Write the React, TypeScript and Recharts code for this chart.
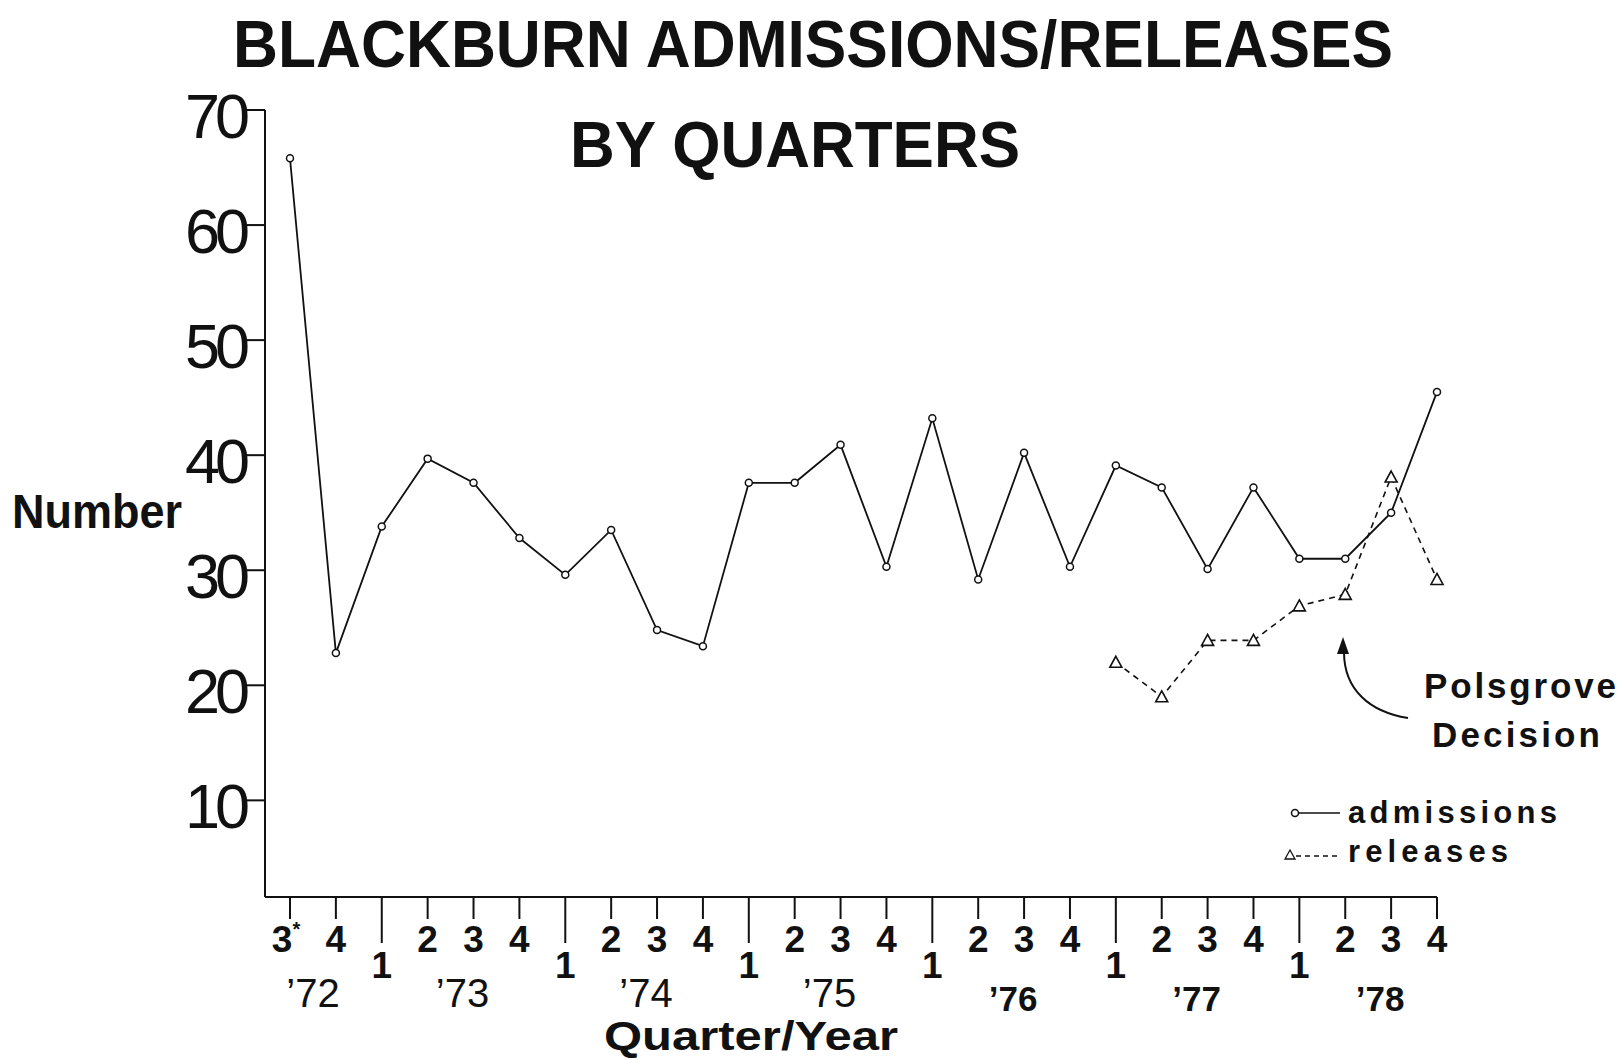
import { LineChart, Line, XAxis, YAxis } from "recharts";

// quarter labels, one per plotted point (3rd quarter '72 .. 4th quarter '78)
const quarters = ["3*", "4", "1", "2", "3", "4", "1", "2", "3", "4", "1", "2", "3", "4", "1", "2", "3", "4", "1", "2", "3", "4", "1", "2", "3", "4"];
const years = ["\u201972", "\u201973", "\u201974", "\u201975", "\u201976", "\u201977", "\u201978"];

const admissions = [65.8, 22.8, 33.8, 39.7, 37.6, 32.8, 29.6, 33.5, 24.8, 23.4, 37.6, 37.6, 40.9, 30.3, 43.2, 29.2, 40.2, 30.3, 39.1, 37.2, 30.1, 37.2, 31.0, 31.0, 35.0, 45.5];
const releases: (number | null)[] = [
  null, null, null, null, null, null, null, null, null, null, null, null, null, null, null, null, null, null,
  22.0, 19.0, 23.9, 23.9, 26.9, 27.9, 38.1, 29.2,
];
const yTicks = [10, 20, 30, 40, 50, 60, 70];

// year index for each point: a new year starts at every quarter "1"
const yearIndex: number[] = [];
quarters.forEach((q, i) => {
  const prev = i === 0 ? 0 : yearIndex[i - 1];
  yearIndex.push(q === "1" ? prev + 1 : prev);
});

const data = quarters.map((q, i) => ({
  key: String(i),
  q,
  admissions: admissions[i],
  releases: releases[i],
}));

const W = 1624;
const H = 1060;
const INK = "#111";
const SANS = "'Liberation Sans', Arial, sans-serif";

function QuarterTick(props: any) {
  const { x, y, payload } = props;
  const i = payload.index ?? props.index;
  const q = quarters[i];
  const isFirst = q === "1";
  const len = isFirst ? 46 : 22;
  const star = q.endsWith("*");
  const qText = star ? q.slice(0, -1) : q;
  const showYear = q.startsWith("3");
  const yi = yearIndex[i];
  const boldYear = yi >= 4;
  return (
    <g>
      <line x1={x} y1={y} x2={x} y2={y + len} stroke={INK} strokeWidth={2} />
      <text
        x={star ? x - 4 : x}
        y={y + (isFirst ? 81 : 55)}
        textAnchor="middle"
        fontFamily={SANS}
        fontWeight="bold"
        fontSize={37}
        fill={INK}
      >
        {qText}
        {star && (
          <tspan fontSize={20} dy={-16}>
            *
          </tspan>
        )}
      </text>
      {showYear && (
        <text
          x={x + (i === 0 ? 23 : -11)}
          y={y + (boldYear ? 114 : 110)}
          textAnchor="middle"
          fontFamily={SANS}
          fontWeight={boldYear ? "bold" : "normal"}
          fontSize={boldYear ? 35 : 40}
          fill={INK}
        >
          {years[yi]}
        </text>
      )}
    </g>
  );
}

function NumberTick(props: any) {
  const { x, y, payload } = props;
  return (
    <text
      x={x}
      y={y + 28}
      textAnchor="end"
      fontFamily={SANS}
      fontSize={63}
      letterSpacing={-5}
      fill={INK}
    >
      {payload.value}
    </text>
  );
}

function TriangleDot(props: any) {
  const { cx, cy, index } = props;
  if (cx == null || cy == null || props.value == null) return <g key={`t-${index}`} />;
  return (
    <path
      key={`t-${index}`}
      d={`M${cx},${cy - 6} L${cx + 6},${cy + 5} L${cx - 6},${cy + 5} Z`}
      fill="#fff"
      stroke={INK}
      strokeWidth={1.6}
    />
  );
}

function Annotations() {
  return (
    <svg width={W} height={H} style={{ position: "absolute", left: 0, top: 0, pointerEvents: "none" }}>
      <text
        x={813}
        y={67}
        textAnchor="middle"
        fontFamily="'Liberation Sans Narrow', 'Liberation Sans', sans-serif"
        fontWeight="bold"
        fontSize={66}
        textLength={1160}
        lengthAdjust="spacingAndGlyphs"
        fill={INK}
      >
        BLACKBURN  ADMISSIONS/RELEASES
      </text>
      <text
        x={795}
        y={167}
        textAnchor="middle"
        fontFamily="'Liberation Sans Narrow', 'Liberation Sans', sans-serif"
        fontWeight="bold"
        fontSize={64}
        textLength={450}
        lengthAdjust="spacingAndGlyphs"
        fill={INK}
      >
        BY  QUARTERS
      </text>
      <text x={12} y={528} fontFamily={SANS} fontWeight="bold" fontSize={48} textLength={170} lengthAdjust="spacingAndGlyphs" fill={INK}>
        Number
      </text>
      <text x={604} y={1050} fontFamily={SANS} fontWeight="bold" fontSize={41} textLength={294} lengthAdjust="spacingAndGlyphs" fill={INK}>
        Quarter/Year
      </text>

      {/* Polsgrove annotation */}
      <text x={1424} y={698} fontFamily={SANS} fontWeight="bold" fontSize={35} textLength={192} lengthAdjust="spacing" fill={INK}>
        Polsgrove
      </text>
      <text x={1432} y={747} fontFamily={SANS} fontWeight="bold" fontSize={35} textLength={168} lengthAdjust="spacing" fill={INK}>
        Decision
      </text>
      <path d="M1408,718 C1370,712 1344,690 1344,652" fill="none" stroke={INK} strokeWidth={2} />
      <path d="M1343,637 L1337,654 L1349,654 Z" fill={INK} />

      {/* legend */}
      <line x1={1298} y1={813} x2={1340} y2={813} stroke={INK} strokeWidth={1.6} />
      <circle cx={1295} cy={813} r={3.5} fill="#fff" stroke={INK} strokeWidth={1.5} />
      <text x={1348} y={823} fontFamily={SANS} fontWeight="bold" fontSize={31} textLength={209} lengthAdjust="spacing" fill={INK}>
        admissions
      </text>
      <line x1={1296} y1={856} x2={1340} y2={856} stroke={INK} strokeWidth={1.6} strokeDasharray="5 4" />
      <path d="M1290,850 L1295,859 L1285,859 Z" fill="#fff" stroke={INK} strokeWidth={1.3} />
      <text x={1348} y={862} fontFamily={SANS} fontWeight="bold" fontSize={31} textLength={160} lengthAdjust="spacing" fill={INK}>
        releases
      </text>
    </svg>
  );
}

export default function App() {
  return (
    <div style={{ position: "absolute", left: 0, top: 0, width: W, height: H, background: "#fff" }}>
      <LineChart width={W} height={H} data={data} margin={{ top: 110, right: 187, bottom: 23, left: 165 }}>
        <XAxis
          dataKey="key"
          padding={{ left: 25, right: 0 }}
          interval={0}
          height={140}
          tickSize={0}
          tickMargin={0}
          tickLine={false}
          axisLine={{ stroke: INK, strokeWidth: 2 }}
          tick={<QuarterTick />}
        />
        <YAxis
          domain={[1.6, 70]}
          ticks={yTicks}
          allowDataOverflow
          width={100}
          tickSize={18}
          tickMargin={2}
          tickLine={{ stroke: INK, strokeWidth: 2 }}
          axisLine={{ stroke: INK, strokeWidth: 2 }}
          tick={<NumberTick />}
        />
        <Line
          dataKey="admissions"
          stroke={INK}
          strokeWidth={1.8}
          isAnimationActive={false}
          dot={{ r: 3.5, fill: "#fff", stroke: INK, strokeWidth: 1.5 }}
          activeDot={false}
        />
        <Line
          dataKey="releases"
          stroke={INK}
          strokeWidth={1.6}
          strokeDasharray="6 5"
          isAnimationActive={false}
          dot={<TriangleDot />}
          activeDot={false}
        />
      </LineChart>
      <Annotations />
    </div>
  );
}
